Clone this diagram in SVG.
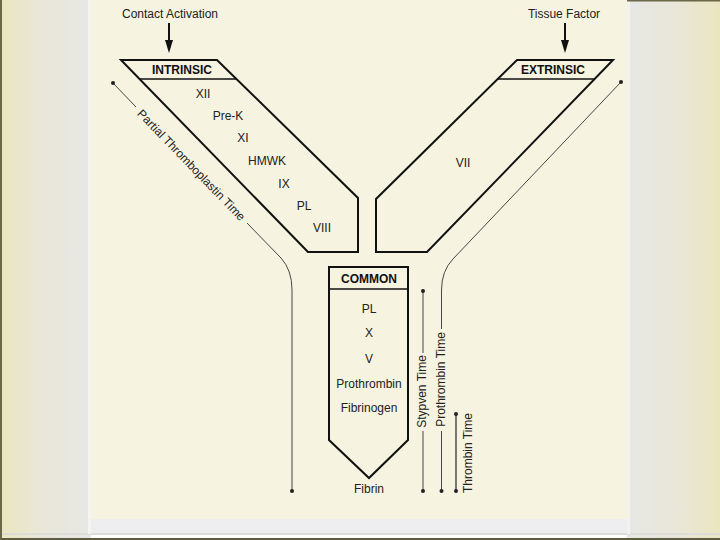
<svg xmlns="http://www.w3.org/2000/svg" width="720" height="540" viewBox="0 0 720 540">
<defs>
<linearGradient id="gl" x1="0" y1="0" x2="1" y2="0">
<stop offset="0" stop-color="#ebe5bf"/>
<stop offset="0.45" stop-color="#e9e7d8"/>
<stop offset="1" stop-color="#e7e7e6"/>
</linearGradient>
<linearGradient id="gr" x1="0" y1="0" x2="1" y2="0">
<stop offset="0" stop-color="#e7e7e6"/>
<stop offset="0.55" stop-color="#e9e7d8"/>
<stop offset="1" stop-color="#ebe5bf"/>
</linearGradient>
<marker id="arr" viewBox="0 0 10 10" refX="0" refY="5" markerWidth="13" markerHeight="8" markerUnits="userSpaceOnUse" orient="auto" preserveAspectRatio="none">
<path d="M0,0 L10,5 L0,10 z" fill="#111"/>
</marker>
<style>
.lbl{font-family:"Liberation Sans",Arial,sans-serif;font-size:12px;fill:#222;text-anchor:middle}
.hdr{font-family:"Liberation Sans",Arial,sans-serif;font-size:12px;font-weight:bold;fill:#111;text-anchor:middle}
.shape{fill:none;stroke:#111;stroke-width:2;stroke-linejoin:miter}
.band{fill:none;stroke:#111;stroke-width:1.6}
.tline{fill:none;stroke:#333;stroke-width:0.9}
.dot{fill:#222}
.arrow{stroke:#111;stroke-width:2;fill:none}
</style>
</defs>
<g id="background">
<rect x="0" y="0" width="91" height="540" fill="url(#gl)"/>
<rect x="627" y="0" width="93" height="540" fill="url(#gr)"/>
<rect x="91" y="0" width="536" height="519" fill="#f6f3e0"/>
<rect x="91" y="519" width="536" height="15" fill="#eeeef0"/>
<rect x="0" y="533" width="720" height="2" fill="#dcdcd8"/>
<rect x="88" y="0" width="3" height="534" fill="#f4f4f0"/>
<rect x="627" y="0" width="3" height="534" fill="#f2f2ee"/>
<rect x="0" y="538" width="720" height="2" fill="#5e5c40"/>
<rect x="0" y="0" width="2" height="540" fill="#6a6848"/>
<rect x="627" y="0" width="93" height="1.5" fill="#6a6848"/>
</g>
<g id="intrinsic">
<polygon class="shape" points="121,60 217,60 358,198 358,252 308,252"/>
<line class="band" x1="140" y1="79" x2="236" y2="79"/>
<text class="hdr" x="182" y="74">INTRINSIC</text>
<text class="lbl" x="203" y="97.5">XII</text>
<text class="lbl" x="228" y="119.5">Pre-K</text>
<text class="lbl" x="243" y="141.5">XI</text>
<text class="lbl" x="267" y="164.5">HMWK</text>
<text class="lbl" x="284" y="187.5">IX</text>
<text class="lbl" x="304" y="210">PL</text>
<text class="lbl" x="322" y="231.5">VIII</text>
</g>
<g id="extrinsic">
<polygon class="shape" points="517,60 613,60 427,252 376,252 376,199"/>
<line class="band" x1="498" y1="79" x2="594" y2="79"/>
<text class="hdr" x="553" y="74">EXTRINSIC</text>
<text class="lbl" x="463" y="166.5">VII</text>
</g>
<g id="common">
<polygon class="shape" points="329,267 408,267 408,440 369,478 329,440"/>
<line class="band" x1="329" y1="289" x2="408" y2="289"/>
<text class="hdr" x="369" y="282.5">COMMON</text>
<text class="lbl" x="369" y="312.5">PL</text>
<text class="lbl" x="369" y="336.5">X</text>
<text class="lbl" x="369" y="362.5">V</text>
<text class="lbl" x="369" y="387.5">Prothrombin</text>
<text class="lbl" x="369" y="412">Fibrinogen</text>
</g>
<g id="fibrin">
<text class="lbl" x="369" y="492.5">Fibrin</text>
</g>
<g id="contact-activation">
<text class="lbl" x="170" y="18">Contact Activation</text>
</g>
<g id="tissue-factor">
<text class="lbl" x="564" y="18">Tissue Factor</text>
</g>
<g id="connectors">
<line class="arrow" x1="169" y1="23" x2="169" y2="40" marker-end="url(#arr)"/>
<line class="arrow" x1="565" y1="23" x2="565" y2="40" marker-end="url(#arr)"/>
<path class="tline" d="M113,83 L136,107"/>
<path class="tline" d="M247,223 L281,258 Q292,270 292,290 L292,491"/>
<circle class="dot" cx="113" cy="83" r="2"/>
<circle class="dot" cx="292" cy="491" r="2"/>
<path class="tline" d="M621,82 L453,259 Q441.5,271 441.5,290 L441.5,329"/>
<path class="tline" d="M441.5,431 L441.5,491"/>
<circle class="dot" cx="621" cy="82" r="2"/>
<circle class="dot" cx="441.5" cy="491" r="2"/>
<path class="tline" d="M423,291 L423,353"/>
<path class="tline" d="M423,431 L423,491"/>
<circle class="dot" cx="423" cy="291" r="2"/>
<circle class="dot" cx="423" cy="491" r="2"/>
<path class="tline" style="stroke-width:1.3" d="M456,414 L456,491"/>
<circle class="dot" cx="456" cy="414" r="2"/>
<circle class="dot" cx="456" cy="491" r="2"/>
</g>
<g id="time-labels">
<text class="lbl" transform="translate(191.5,165) rotate(46)" x="0" y="4.3">Partial Thromboplastin Time</text>
<text class="lbl" transform="translate(422,391.5) rotate(-90)" x="0" y="4.3">Stypven Time</text>
<text class="lbl" transform="translate(441,379.5) rotate(-90)" x="0" y="4.3">Prothrombin Time</text>
<text class="lbl" transform="translate(468,453) rotate(-90)" x="0" y="4.3">Thrombin Time</text>
</g>
</svg>
